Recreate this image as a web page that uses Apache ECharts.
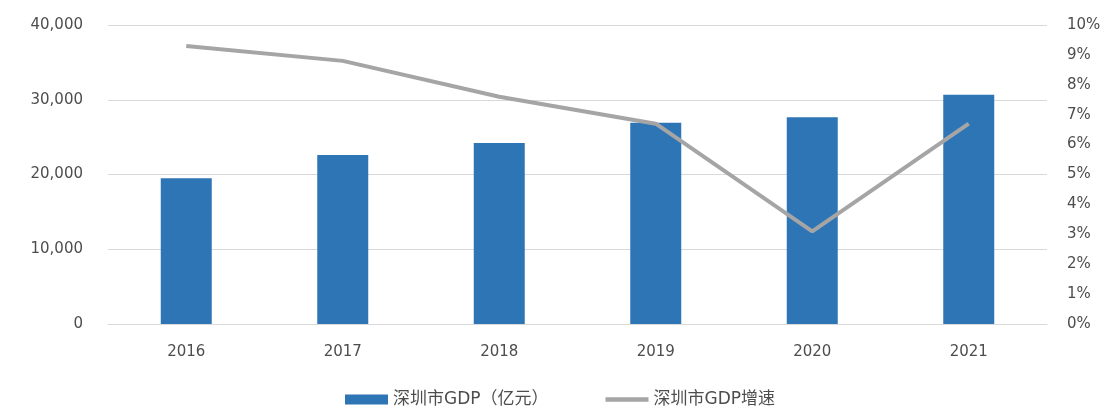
<!DOCTYPE html>
<html>
<head>
<meta charset="utf-8">
<script src="https://cdn.jsdelivr.net/npm/echarts@6/dist/echarts.min.js"></script>
<style>
  html, body { margin: 0; padding: 0; background: #fff; }
  #main { width: 1108px; height: 406px; }
</style>
</head>
<body>
<div id="main"></div>
<script>
// 年份
const years = ['2016', '2017', '2018', '2019', '2020', '2021'];
// 深圳市GDP（亿元）
const gdp = [19493, 22600, 24222, 26927, 27670, 30665];
// 深圳市GDP增速
const growth = [0.093, 0.088, 0.076, 0.067, 0.031, 0.067];

const fontFamily = '"DejaVu Sans", "Noto Sans CJK SC", sans-serif';
const textColor = '#4d4d4d';

let myChart = echarts.init(document.getElementById('main'));

let option = {
    animation: false,
    backgroundColor: '#fff',
    textStyle: { fontFamily: fontFamily },
    grid: { left: 108, right: 61, top: 25, bottom: 82 },
    legend: {
        left: 340,
        top: 386,
        itemGap: 57,
        itemWidth: 43,
        itemHeight: 10,
        textStyle: { fontSize: 17, color: textColor, fontFamily: fontFamily },
        data: [
            { name: '深圳市GDP（亿元）', icon: 'rect' },
            { name: '深圳市GDP增速', icon: 'path://M0 0 H40 V4 H0 Z' }
        ]
    },
    xAxis: {
        type: 'category',
        data: years,
        axisLine: { lineStyle: { color: '#d9d9d9', width: 1 } },
        axisTick: { show: false },
        axisLabel: { color: textColor, fontSize: 15, margin: 21 }
    },
    yAxis: [
        {
            type: 'value',
            min: 0,
            max: 40000,
            interval: 10000,
            axisLine: { show: false },
            axisTick: { show: false },
            splitLine: { lineStyle: { color: '#d9d9d9' } },
            axisLabel: {
                color: textColor,
                fontSize: 15,
                margin: 25,
                formatter: v => v.toLocaleString('en-US')
            }
        },
        {
            type: 'value',
            min: 0,
            max: 0.1,
            interval: 0.01,
            axisLine: { show: false },
            axisTick: { show: false },
            splitLine: { show: false },
            axisLabel: {
                color: textColor,
                fontSize: 15,
                margin: 20,
                formatter: v => Math.round(v * 100) + '%'
            }
        }
    ],
    series: [
        {
            name: '深圳市GDP（亿元）',
            type: 'bar',
            barWidth: 51,
            itemStyle: { color: '#2e75b6' },
            data: gdp
        },
        {
            name: '深圳市GDP增速',
            type: 'line',
            yAxisIndex: 1,
            symbol: 'none',
            lineStyle: { color: '#a5a5a5', width: 4 },
            itemStyle: { color: '#a5a5a5' },
            data: growth
        }
    ]
};

myChart.setOption(option);
</script>
</body>
</html>
